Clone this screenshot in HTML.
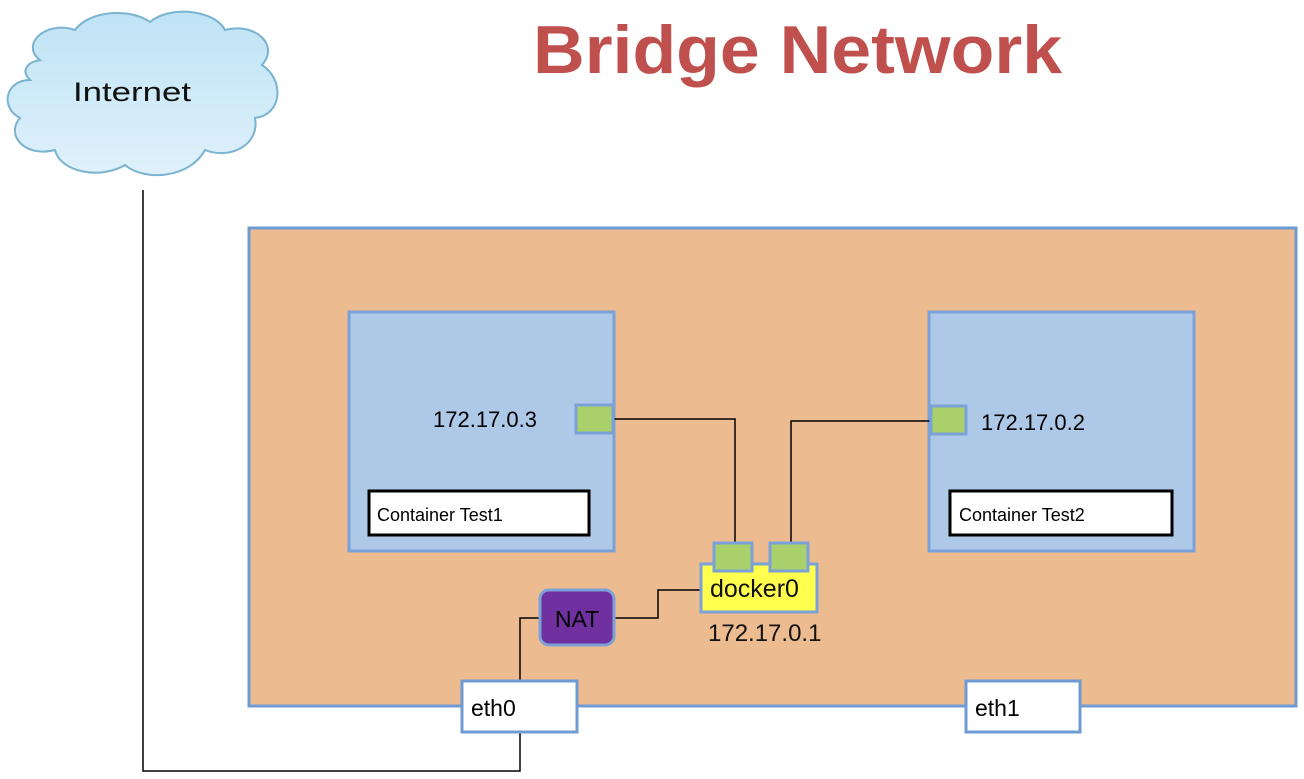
<!DOCTYPE html>
<html><head><meta charset="utf-8"><style>
html,body{margin:0;padding:0;background:#fff;width:1304px;height:779px;overflow:hidden}
svg{display:block;font-family:"Liberation Sans",sans-serif}
</style></head><body>
<svg width="1304" height="779" viewBox="0 0 1304 779">
<defs><linearGradient id="cg" x1="0" y1="0" x2="0" y2="1"><stop offset="0" stop-color="#bfe3f5"/><stop offset="1" stop-color="#dff1fb"/></linearGradient></defs>
<text x="533" y="73" font-size="68" font-weight="bold" fill="#c0504d" textLength="529" lengthAdjust="spacingAndGlyphs">Bridge Network</text>
<path d="M40,60 C20,45 45,20 75,30 C90,10 130,8 150,22 C170,5 215,10 225,30 C255,22 280,45 262,65 C285,80 282,115 255,118 C260,145 230,160 205,150 C190,178 145,182 125,165 C100,180 60,172 55,150 C25,158 5,135 20,118 C0,108 5,80 30,80 C20,70 28,62 40,60 Z" fill="url(#cg)" stroke="#7ab3d0" stroke-width="2"/>
<text x="132" y="101" text-anchor="middle" font-size="27" fill="#111" textLength="118" lengthAdjust="spacingAndGlyphs">Internet</text>
<rect x="249" y="228" width="1047" height="478" fill="#ecbb8f" stroke="#6f9bd5" stroke-width="3"/>
<rect x="349" y="312" width="265" height="239" fill="#aec8e8" stroke="#7aa2d8" stroke-width="3"/>
<rect x="929" y="312" width="265" height="239" fill="#aec8e8" stroke="#7aa2d8" stroke-width="3"/>
<rect x="369" y="491" width="220" height="44" fill="#fff" stroke="#000" stroke-width="3"/>
<rect x="950" y="491" width="222" height="44" fill="#fff" stroke="#000" stroke-width="3"/>
<text x="377" y="521" font-size="18" fill="#000">Container Test1</text>
<text x="959" y="521" font-size="18" fill="#000">Container Test2</text>
<text x="433" y="427" font-size="22" fill="#000">172.17.0.3</text>
<text x="981" y="430" font-size="22" fill="#000">172.17.0.2</text>
<g fill="none" stroke="#000" stroke-width="1.5">
<polyline points="613,419 735,419 735,543"/>
<polyline points="966,421 791,421 791,543"/>
<polyline points="700,590 658,590 658,618 614,618"/>
<polyline points="540,618 520,618 520,681"/>
<polyline points="520,732 520,771 143,771 143,190"/>
</g>
<rect x="576" y="405" width="37" height="28" fill="#a9d06a" stroke="#7aa2d8" stroke-width="3"/>
<rect x="931" y="406" width="35" height="28" fill="#a9d06a" stroke="#7aa2d8" stroke-width="3"/>
<rect x="701" y="564" width="116" height="48" fill="#ffff4d" stroke="#7aa2d8" stroke-width="3"/>
<rect x="714" y="543" width="38" height="28" fill="#a9d06a" stroke="#7aa2d8" stroke-width="3"/>
<rect x="770" y="543" width="38" height="28" fill="#a9d06a" stroke="#7aa2d8" stroke-width="3"/>
<text x="710" y="597" font-size="25" fill="#111">docker0</text>
<text x="708" y="641" font-size="24" fill="#111">172.17.0.1</text>
<rect x="540" y="590" width="74" height="55" rx="9" fill="#7030a0" stroke="#7aa2d8" stroke-width="3"/>
<text x="577" y="627" text-anchor="middle" font-size="23" fill="#000">NAT</text>
<rect x="462" y="681" width="115" height="51" fill="#fff" stroke="#6f9bd5" stroke-width="3"/>
<rect x="966" y="681" width="114" height="51" fill="#fff" stroke="#6f9bd5" stroke-width="3"/>
<text x="471" y="716" font-size="23" fill="#000">eth0</text>
<text x="975" y="716" font-size="23" fill="#000">eth1</text>
</svg>
</body></html>
